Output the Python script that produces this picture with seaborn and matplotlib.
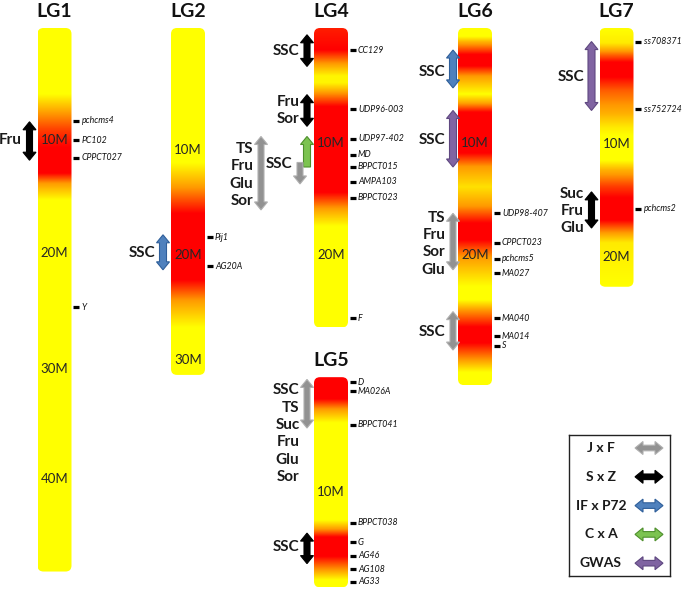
import numpy as np
import matplotlib
matplotlib.use("Agg")
import matplotlib.pyplot as plt
from matplotlib.colors import LinearSegmentedColormap
from matplotlib.patches import FancyBboxPatch, Polygon
import seaborn as sns

# ---- data -------------------------------------------------------------
CHROMS = ["LG1", "LG2", "LG4", "LG5", "LG6", "LG7"]
CHROM_LEN = [48.1, 30.7, 26.5, 18.6, 31.6, 22.9]

SCALE_CHROM = ["LG1", "LG1", "LG1", "LG1", "LG2", "LG2", "LG2",
               "LG4", "LG4", "LG5", "LG6", "LG6", "LG7", "LG7"]
SCALE_TEXT = ["10M", "20M", "30M", "40M", "10M", "20M", "30M",
              "10M", "20M", "10M", "10M", "20M", "10M", "20M"]
SCALE_POS = [9.9, 19.9, 30.2, 39.9, 10.8, 20.1, 29.4,
             10.2, 20.1, 10.2, 10.2, 20.1, 10.3, 20.3]

MARKER_CHROM = (["LG1"] * 4 + ["LG2"] * 2 + ["LG4"] * 8 + ["LG5"] * 8
                + ["LG6"] * 7 + ["LG7"] * 3)
MARKER_NAME = ["pchcms4", "PC102", "CPPCT027", "Y",
               "Pij1", "AG20A",
               "CC129", "UDP96-003", "UDP97-402", "MD", "BPPCT015", "AMPA103",
               "BPPCT023", "F",
               "D", "MA026A", "BPPCT041", "BPPCT038", "G", "AG46", "AG108", "AG33",
               "UDP98-407", "CPPCT023", "pchcms5", "MA027", "MA040", "MA014", "S",
               "ss708371", "ss752724", "pchcms2"]
MARKER_POS = [8.2, 9.95, 11.5, 24.7,
              18.5, 21.1,
              1.95, 7.2, 9.8, 11.2, 12.3, 13.6, 15.0, 25.7,
              0.45, 1.25, 4.2, 12.9, 14.6, 15.8, 17.0, 18.1,
              16.4, 19.0, 20.4, 21.7, 25.7, 27.3, 28.1,
              1.2, 7.2, 16.0]

QTL_CHROM = ["LG1", "LG2", "LG4", "LG4", "LG4", "LG4", "LG4",
             "LG5", "LG5", "LG6", "LG6", "LG6", "LG6", "LG7", "LG7"]
QTL_START = [8.3, 18.3, 0.6, 5.9, 9.6, 11.9, 9.6,
             0.2, 13.8, 1.95, 7.3, 16.4, 25.1, 1.2, 14.5]
QTL_END = [11.7, 21.4, 3.4, 8.7, 12.3, 13.8, 16.1,
           4.5, 16.5, 5.3, 12.3, 21.4, 28.5, 7.3, 17.7]
QTL_POP = ["S x Z", "IF x P72", "S x Z", "S x Z", "C x A", "J x F", "J x F",
           "J x F", "S x Z", "IF x P72", "GWAS", "J x F", "J x F", "GWAS", "S x Z"]
QTL_HEADS = ["both", "both", "both", "both", "up", "down", "both",
             "both", "both", "both", "both", "both", "both", "both", "both"]
QTL_TRAITS = ["Fru", "SSC", "SSC", "Fru\nSor", "", "SSC", "TS\nFru\nGlu\nSor",
              "SSC\nTS\nSuc\nFru\nGlu\nSor", "SSC", "SSC", "SSC",
              "TS\nFru\nSor\nGlu", "SSC", "SSC", "Suc\nFru\nGlu"]
QTL_LABEL_POS = [9.9, 19.9, 2.0, 7.3, 0, 12.0, 13.0,
                 5.0, 15.0, 3.9, 9.9, 19.1, 26.9, 4.3, 16.2]

# heat profile along each chromosome (position in Mb, 0 = yellow, 1 = red)
LG1_HEAT_POS = [0, 5.8, 7.5, 9.0, 10.5, 12.8, 13.7, 15.2, 48.1]
LG1_HEAT_VAL = [0, 0, 0.5, 0.8, 1, 1, 0.5, 0, 0]
LG2_HEAT_POS = [0, 11.9, 14.1, 16.4, 22.3, 24.1, 26.5, 30.7]
LG2_HEAT_VAL = [0, 0, 0.5, 1, 1, 0.5, 0, 0]
LG4_HEAT_POS = [0, 2.0, 3.2, 4.3, 4.9, 5.8, 7.0, 14.6, 16.0, 17.6, 26.5]
LG4_HEAT_VAL = [0.9, 1, 0.5, 0.05, 0.05, 0.5, 1, 1, 0.5, 0, 0]
LG5_HEAT_POS = [0, 2.0, 2.9, 4.1, 12.7, 13.5, 14.2, 15.9, 17.1, 18.0, 18.6]
LG5_HEAT_VAL = [1, 1, 0.5, 0, 0, 0.5, 1, 1, 0.5, 0, 0]
LG6_HEAT_POS = [0, 0.8, 1.3, 2.4, 3.4, 4.3, 5.9, 6.6, 7.5, 11.1, 12.3, 14.1,
                15.8, 17.3, 18.8, 20.3, 22.9, 24.1, 25.0, 26.5, 27.9, 29.4,
                30.5, 31.6]
LG6_HEAT_VAL = [0, 0, 0.4, 1, 1, 0.5, 0, 0.4, 1, 1, 0.5, 0.15,
                0.5, 1, 1, 0.5, 0, 0, 0.5, 1, 1, 0.5, 0, 0]
LG7_HEAT_POS = [0, 1.3, 2.4, 3.0, 4.3, 5.5, 7.5, 8.8, 9.5, 11.7, 12.6, 14.0,
                15.0, 17.0, 18.1, 19.0, 22.9]
LG7_HEAT_VAL = [0, 0.1, 0.7, 1, 1, 0.7, 0.4, 0.1, 0, 0, 0.4, 0.8,
                1, 1, 0.5, 0.1, 0]

POPS = ["J x F", "S x Z", "IF x P72", "C x A", "GWAS"]

# ---- layout / style ---------------------------------------------------
PX_PER_MB = 11.3
CHROM_X = {"LG1": 54.5, "LG2": 188, "LG4": 331, "LG5": 331, "LG6": 475, "LG7": 616.5}
CHROM_TOP = {"LG1": 0, "LG2": 0, "LG4": 0, "LG5": 30.9, "LG6": 0, "LG7": 0}
QTL_XOFF = [-25, -25, -24, -24, -24, -31, -70,
            -24, -24, -22, -22, -22, -22, -25, -25]
BAR_W = 34
POP_FACE = {"J x F": "#929292", "S x Z": "#000000", "IF x P72": "#4f81bd",
            "C x A": "#7cc350", "GWAS": "#8064a2"}
POP_EDGE = {"J x F": "#b0b0b0", "S x Z": "#000000", "IF x P72": "#2f5f9a",
            "C x A": "#4e8f2c", "GWAS": "#5f4880"}
HEAT_CMAP = LinearSegmentedColormap.from_list("yr", ["#ffff00", "#ff9a00", "#ff0000"])


def heat_profile(name):
    table = {"LG1": (LG1_HEAT_POS, LG1_HEAT_VAL), "LG2": (LG2_HEAT_POS, LG2_HEAT_VAL),
             "LG4": (LG4_HEAT_POS, LG4_HEAT_VAL), "LG5": (LG5_HEAT_POS, LG5_HEAT_VAL),
             "LG6": (LG6_HEAT_POS, LG6_HEAT_VAL), "LG7": (LG7_HEAT_POS, LG7_HEAT_VAL)}
    return table[name]


def arrow_poly(c, a0, a1, sw, hw, hl, heads, vertical=True):
    """Block arrow along one axis; c = centre on the other axis."""
    pts = []
    if heads in ("both", "up"):
        pts += [(0, a0), (hw, a0 + hl), (sw, a0 + hl)]
    else:
        pts += [(sw, a0)]
    if heads in ("both", "down"):
        pts += [(sw, a1 - hl), (hw, a1 - hl), (0, a1), (-hw, a1 - hl), (-sw, a1 - hl)]
    else:
        pts += [(sw, a1), (-sw, a1)]
    if heads in ("both", "up"):
        pts += [(-sw, a0 + hl), (-hw, a0 + hl)]
    else:
        pts += [(-sw, a0)]
    if vertical:
        return [(c + d, a) for d, a in pts]
    return [(a, c + d) for d, a in pts]


def draw_chromosomes(ax):
    for name, length in zip(CHROMS, CHROM_LEN):
        top = CHROM_TOP[name]
        x0 = CHROM_X[name] - BAR_W / 2
        pos, val = heat_profile(name)
        ys = np.linspace(0, length, 500)
        prof = np.interp(ys, pos, val)
        im = ax.imshow(prof[:, None], cmap=HEAT_CMAP, vmin=0, vmax=1, aspect="auto",
                       extent=(x0, x0 + BAR_W, top + length, top),
                       interpolation="bilinear", zorder=1)
        clip = FancyBboxPatch((x0, top), BAR_W, length,
                              boxstyle="round,pad=0,rounding_size=6",
                              mutation_aspect=1 / PX_PER_MB,
                              facecolor="none", edgecolor="none")
        ax.add_patch(clip)
        im.set_clip_path(clip)
        ax.text(CHROM_X[name], top - 1.45, name, ha="center", va="center",
                fontsize=14, fontweight="bold", color="#111111")


def draw_scale(ax):
    for name, txt, p in zip(SCALE_CHROM, SCALE_TEXT, SCALE_POS):
        ax.text(CHROM_X[name], CHROM_TOP[name] + p, txt, ha="center", va="center",
                fontsize=9.5, color="#262626", zorder=3)


def draw_markers(ax):
    tx = [CHROM_X[c] + BAR_W / 2 + 4.5 for c in MARKER_CHROM]
    ty = [CHROM_TOP[c] + p for c, p in zip(MARKER_CHROM, MARKER_POS)]
    sns.scatterplot(x=tx, y=ty, marker="_", s=24, linewidth=2.3, color="black",
                    edgecolor="black", ax=ax, legend=False, zorder=3)
    for x, y, lab in zip(tx, ty, MARKER_NAME):
        ax.text(x + 5.5, y, lab, ha="left", va="center", fontsize=6.3,
                fontstyle="italic", color="#111111")


def draw_qtls(ax):
    hl = 8 / PX_PER_MB
    for c, a0, a1, pop, heads, traits, lp, dx in zip(
            QTL_CHROM, QTL_START, QTL_END, QTL_POP, QTL_HEADS, QTL_TRAITS,
            QTL_LABEL_POS, QTL_XOFF):
        top = CHROM_TOP[c]
        cx = CHROM_X[c] + dx
        sw = 3.0 if pop in ("S x Z", "J x F") else 3.5
        poly = Polygon(arrow_poly(cx, top + a0, top + a1, sw, 6.5, hl, heads),
                       closed=True, facecolor=POP_FACE[pop], edgecolor=POP_EDGE[pop],
                       linewidth=0.8, zorder=4)
        ax.add_patch(poly)
        if traits:
            ax.text(cx - 7.5, top + lp, traits, ha="right", va="center", fontsize=11,
                    fontweight="bold", color="#1a1a1a", linespacing=1.3)


def draw_legend(fig):
    lax = fig.add_axes([569 / 682, 1 - 576 / 591, 101 / 682, 141 / 591])
    lax.set_xlim(0, 101)
    lax.set_ylim(141, 0)
    lax.set_xticks([])
    lax.set_yticks([])
    for s in lax.spines.values():
        s.set_visible(True)
        s.set_color("#222222")
        s.set_linewidth(1.0)
    for i, pop in enumerate(POPS):
        y = 13 + i * 28.8
        lax.text(32, y, pop, ha="center", va="center", fontsize=10,
                 fontweight="bold", color="#1a1a1a")
        lax.add_patch(Polygon(arrow_poly(y, 66, 94, 2.8, 6.5, 8, "both", vertical=False),
                              closed=True, facecolor=POP_FACE[pop],
                              edgecolor=POP_EDGE[pop], linewidth=0.8))


def main():
    sns.set_theme(style="white")
    plt.rcParams["font.family"] = ["Lato", "DejaVu Sans"]
    fig = plt.figure(figsize=(6.82, 5.91), dpi=100)
    ax = fig.add_axes([0, 0, 1, 1])

    draw_chromosomes(ax)
    draw_scale(ax)
    draw_markers(ax)
    draw_qtls(ax)

    ax.set_xlim(0, 682)
    ax.set_ylim((591 - 28) / PX_PER_MB, -28 / PX_PER_MB)
    ax.set_axis_off()

    draw_legend(fig)
    fig.savefig("out.png", dpi=100, facecolor="white")


if __name__ == "__main__":
    main()
